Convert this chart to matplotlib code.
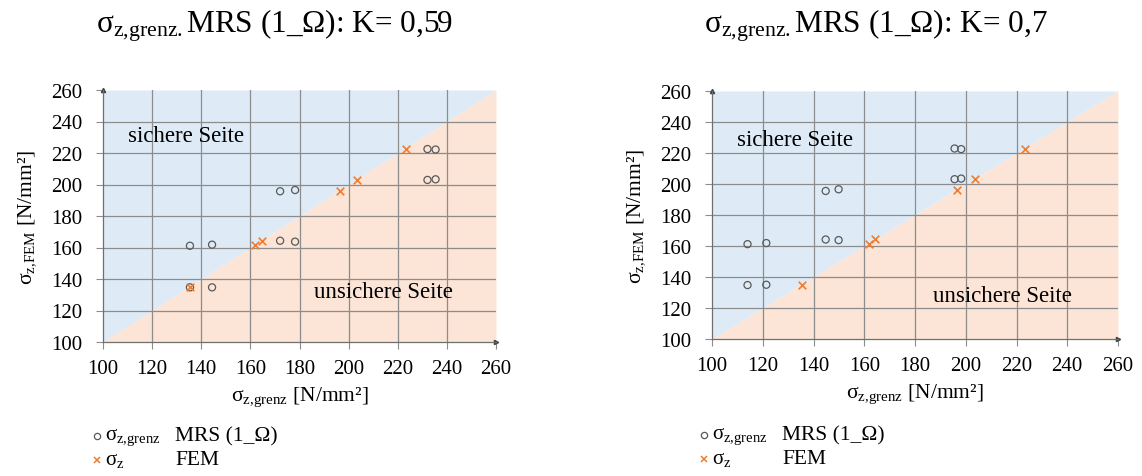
import matplotlib as mpl
import matplotlib.pyplot as plt
from matplotlib.lines import Line2D

mpl.rcParams.update(
    {
        "font.family": ["Liberation Serif", "DejaVu Serif"],
        "font.size": 15,
        "mathtext.fontset": "custom",
        "mathtext.rm": "Liberation Serif",
        "mathtext.it": "Liberation Serif:italic",
        "figure.facecolor": "white",
    }
)

# --- data (N/mm²) ---
K_LABELS = ["0,59", "0,7"]

# left panel, K = 0,59
MRS_X_059 = [135.4, 144.4, 135.4, 144.4, 172.1, 178.2, 172.1, 178.2, 232.1, 235.4, 232.1, 235.4]
MRS_Y_059 = [161.1, 161.8, 134.7, 134.7, 195.7, 196.5, 164.3, 163.7, 222.5, 222.2, 202.9, 203.3]
FEM_X_059 = [135.4, 161.9, 164.6, 196.5, 203.3, 223.2]
FEM_Y_059 = [134.7, 161.6, 163.9, 195.9, 203.0, 222.4]

# right panel, K = 0,7
MRS_X_07 = [114.0, 121.4, 114.0, 121.4, 144.8, 149.9, 144.8, 149.9, 195.6, 198.2, 195.6, 198.2]
MRS_Y_07 = [161.2, 161.9, 134.8, 135.0, 195.5, 196.6, 164.2, 163.8, 222.9, 222.5, 203.1, 203.5]
FEM_X_07 = [135.5, 162.0, 164.4, 196.5, 203.5, 223.2]
FEM_Y_07 = [134.8, 161.5, 164.2, 196.0, 203.5, 222.9]

TICKS = [100, 120, 140, 160, 180, 200, 220, 240, 260]

C_SAFE = "#deebf7"
C_UNSAFE = "#fce4d6"
C_GRID = "#8c8c8c"
C_CIRCLE = "#595959"
C_CROSS = "#ed7d31"

SIG_GRENZ = r"$\mathrm{σ}_{\mathrm{z{,}grenz}}$"
SIG_FEM = r"$\mathrm{σ}_{\mathrm{z{,}FEM}}$"
SIG_Z = r"$\mathrm{σ}_{\mathrm{z}}$"


def panel(ax, mrs_x, mrs_y, fem_x, fem_y, safe_pos, unsafe_pos):
    lo, hi = TICKS[0], TICKS[-1]
    ax.fill_between([lo, hi], [lo, hi], hi, color=C_SAFE, lw=0, zorder=0)
    ax.fill_between([lo, hi], lo, [lo, hi], color=C_UNSAFE, lw=0, zorder=0)
    for t in TICKS[1:-1]:
        ax.axvline(t, color=C_GRID, lw=0.9, zorder=1)
        ax.axhline(t, color=C_GRID, lw=0.9, zorder=1)

    ax.scatter(mrs_x, mrs_y, s=26, facecolors="none", edgecolors=C_CIRCLE, linewidths=0.9, zorder=3)
    ax.scatter(fem_x, fem_y, s=30, marker="x", color=C_CROSS, linewidths=1.2, zorder=4)

    ax.text(*safe_pos, "sichere Seite", fontsize=16.5, ha="left", va="center", zorder=5)
    ax.text(*unsafe_pos, "unsichere Seite", fontsize=16.5, ha="left", va="center", zorder=5)

    ax.set_xlim(lo, hi)
    ax.set_ylim(lo, hi)
    ax.set_xticks(TICKS)
    ax.set_yticks(TICKS)
    ax.tick_params(direction="out", length=5, color=C_GRID, labelsize=15)
    ax.tick_params(axis="x", pad=7)
    ax.tick_params(axis="y", pad=10)
    for side in ("top", "right"):
        ax.spines[side].set_visible(False)
    for side in ("left", "bottom"):
        ax.spines[side].set_color("#6f6f6f")
        ax.spines[side].set_linewidth(0.9)
    # small arrow heads at the axis ends
    ax.plot([1], [0], marker=">", ms=3, color="#404040", transform=ax.transAxes, clip_on=False)
    ax.plot([0], [1], marker="^", ms=3, color="#404040", transform=ax.transAxes, clip_on=False)

    ax.set_xlabel(SIG_GRENZ + " [N/mm²]", fontsize=15.5, labelpad=5)
    ax.set_ylabel(SIG_FEM + " [N/mm²]", fontsize=15.5, labelpad=9)


def legend_block(fig, x0, y_top):
    W, H = fig.get_size_inches() * fig.dpi
    dy = 24 / H
    fig.add_artist(Line2D([x0], [y_top], marker="o", ms=4.5, mfc="none", mec=C_CIRCLE, mew=0.9,
                          transform=fig.transFigure, ls="none"))
    fig.add_artist(Line2D([x0], [y_top - dy], marker="x", ms=5, color=C_CROSS, mew=1.1,
                          transform=fig.transFigure, ls="none"))
    fig.text(x0 + 8 / W, y_top, SIG_GRENZ, fontsize=15, va="center", ha="left")
    fig.text(x0 + 8 / W, y_top - dy, SIG_Z, fontsize=15, va="center", ha="left")
    fig.text(x0 + 78 / W, y_top, "MRS (1_Ω)", fontsize=15.5, va="center", ha="left")
    fig.text(x0 + 78 / W, y_top - dy, "FEM", fontsize=15.5, va="center", ha="left")


fig = plt.figure(figsize=(11.42, 4.77), dpi=100)
W, H = 1142, 477

ax_l = fig.add_axes([103 / W, 1 - 343 / H, (496 - 103) / W, (343 - 91) / H])
ax_r = fig.add_axes([712 / W, 1 - 340 / H, (1118 - 712) / W, (340 - 92) / H])

panel(ax_l, MRS_X_059, MRS_Y_059, FEM_X_059, FEM_Y_059, (110, 231), (186, 132))
panel(ax_r, MRS_X_07, MRS_Y_07, FEM_X_07, FEM_Y_07, (110, 229), (187, 128))

for xc, k in zip([274 / W, 876 / W], K_LABELS):
    fig.text(xc, 1 - 26 / H, r"$\mathrm{σ}_{\mathrm{z{,}grenz.}}$" + f"MRS (1_Ω): K= {k}",
             fontsize=22.5, ha="center", va="center")

legend_block(fig, 97 / W, 1 - 437 / H)
legend_block(fig, 704 / W, 1 - 436 / H)

fig.savefig("out.png", dpi=100, facecolor="white")
